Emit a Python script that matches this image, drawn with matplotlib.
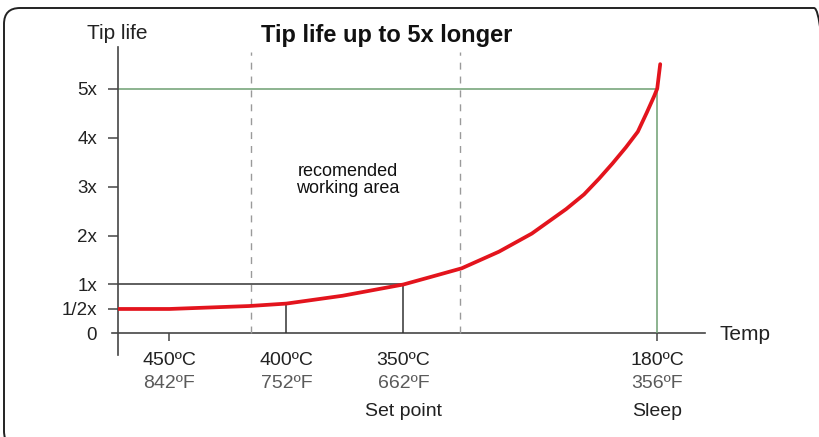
import numpy as np
import matplotlib
matplotlib.use('Agg')
import matplotlib.pyplot as plt
from matplotlib.patches import FancyBboxPatch

plt.rcParams['font.family'] = ['Liberation Sans', 'DejaVu Sans']

# Tip life curve (multiple of nominal life) vs tip temperature in °C
curve_temp = [472, 450, 416, 400, 376, 350, 331, 311, 286, 264, 241, 229, 219, 210,
              201, 193, 187, 182, 180, 179, 178]
curve_life = [0.5, 0.5, 0.56, 0.61, 0.77, 1.0, 1.16, 1.33, 1.67, 2.04, 2.54, 2.84, 3.16, 3.47,
              3.8, 4.12, 4.51, 4.85, 5.0, 5.25, 5.5]

temps_c = [450, 400, 350, 180]
labels_c = ['450ºC', '400ºC', '350ºC', '180ºC']
labels_f = ['842ºF', '752ºF', '662ºF', '356ºF']
notes = ['', '', 'Set point', 'Sleep']

life_ticks = [0, 0.5, 1, 2, 3, 4, 5]
life_labels = ['0', '1/2x', '1x', '2x', '3x', '4x', '5x']

set_point, sleep = 350, 180
working_area = (415, 312)


# the temperature axis is stretched differently above and below the set point;
# values grow to the left, so the scale works on the negated position
def forward(t):
    t = np.asarray(t, dtype=float)
    pos = np.where(t >= 350, 3.0 + (350 - t) / 50.0, 3.0 + (350 - t) / 170.0 * 2.17)
    return -pos


def inverse(q):
    p = -np.asarray(q, dtype=float)
    return np.where(p <= 3.0, 350 - (p - 3.0) * 50.0, 350 - (p - 3.0) * 170.0 / 2.17)


fig = plt.figure(figsize=(8.19, 4.37), dpi=100)
ax = fig.add_axes([118 / 819, 82 / 437, 587 / 819, 308 / 437])
ax.set_xscale('function', functions=(forward, inverse))
ax.set_xlim(472, 148)
ax.set_ylim(-0.44, 5.85)

axis_col = '#454545'
for s in ['top', 'right', 'bottom']:
    ax.spines[s].set_visible(False)
ax.spines['left'].set_color(axis_col)
ax.spines['left'].set_linewidth(1.2)
ax.set_xticks([])
ax.set_yticks(life_ticks)
ax.set_yticklabels(life_labels)
ax.tick_params(axis='y', length=7, width=1.1, color=axis_col, pad=8.0,
               labelsize=13.5, labelcolor='#222222')
ax.yaxis.get_major_ticks()[0].tick1line.set_visible(False)

# x axis drawn at zero life
ax.axhline(0, xmin=-0.011, xmax=1, color=axis_col, lw=1.2, clip_on=False)
ax.vlines([temps_c[0], temps_c[-1]], -0.16, 0, color=axis_col, lw=1.1, clip_on=False)

# working area boundaries
ax.vlines(list(working_area), 0, 5.75, color='#9a9a9a', lw=1.0, linestyles=(0, (5, 5)))

# reference lines for set point and sleep
life_400 = curve_life[curve_temp.index(400)]
ax.hlines(1, 472, set_point, color='#333333', lw=1.1)
ax.vlines(set_point, 0, 1, color='#333333', lw=1.1)
ax.vlines(400, 0, life_400, color='#333333', lw=1.1)
ax.hlines(5, 472, sleep, color='#6e9f72', lw=1.1)
ax.vlines(sleep, 0, 5, color='#6e9f72', lw=1.1)

ax.plot(curve_temp, curve_life, color='#e3141d', lw=2.7, solid_capstyle='round',
        solid_joinstyle='round', zorder=5)

for t, c, f, n in zip(temps_c, labels_c, labels_f, notes):
    ax.annotate(c, (t, 0), xytext=(0, -31.5), textcoords='offset pixels',
                ha='center', va='baseline', fontsize=14, color='#222222')
    ax.annotate(f, (t, 0), xytext=(0, -54.5), textcoords='offset pixels',
                ha='center', va='baseline', fontsize=14, color='#5a5a5a')
    if n:
        ax.annotate(n, (t, 0), xytext=(0, -82.5), textcoords='offset pixels',
                    ha='center', va='baseline', fontsize=14, color='#222222')

fig.text(720 / 819, 1 - 340 / 437, 'Temp', ha='left', va='baseline', fontsize=15, color='#222222')
fig.text(117 / 819, 1 - 39 / 437, 'Tip life', ha='center', va='baseline', fontsize=15, color='#222222')
fig.text(387 / 819, 1 - 42 / 437, 'Tip life up to 5x longer', ha='center', va='baseline',
         fontsize=17, fontweight='bold', color='#111111')
fig.text(348 / 819, 1 - 180 / 437, 'recomended\nworking area', ha='center', va='center',
         fontsize=13, color='#111111', linespacing=1.05)

# rounded frame running off the right and bottom edges
frame = FancyBboxPatch((0.04, -0.10), 8.26, 4.39, boxstyle='round,pad=0,rounding_size=0.16',
                       transform=fig.dpi_scale_trans, fill=False, ec='#222222', lw=1.4)
fig.add_artist(frame)

fig.savefig('out.png', dpi=100)
